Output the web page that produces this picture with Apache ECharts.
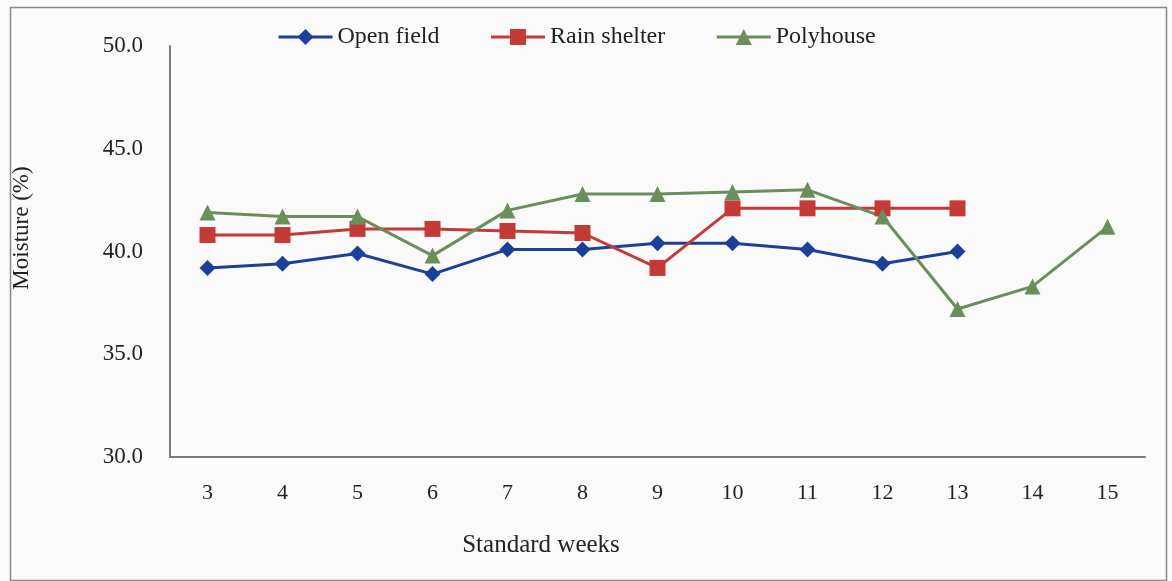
<!DOCTYPE html>
<html>
<head>
<meta charset="utf-8">
<script src="https://cdn.jsdelivr.net/npm/echarts@6/dist/echarts.min.js"></script>
<style>
html,body{margin:0;padding:0;background:#fafafa;}
#c{width:1172px;height:581px;}
</style>
</head>
<body>
<div id="c"></div>
<script>
const weeks = ['3','4','5','6','7','8','9','10','11','12','13','14','15'];
const openField = [39.2, 39.4, 39.9, 38.9, 40.1, 40.1, 40.4, 40.4, 40.1, 39.4, 40.0, null, null];
const rainShelter = [40.8, 40.8, 41.1, 41.1, 41.0, 40.9, 39.2, 42.1, 42.1, 42.1, 42.1, null, null];
const polyhouse = [41.9, 41.7, 41.7, 39.8, 42.0, 42.8, 42.8, 42.9, 43.0, 41.7, 37.2, 38.3, 41.2];
const yTicks = [30, 35, 40, 45, 50];
const xTitle = 'Standard weeks';
const yTitle = 'Moisture (%)';

const font = '"Liberation Serif", "Times New Roman", serif';
const chart = echarts.init(document.getElementById('c'));
function ser(name, data, color, symbol, size) {
  return {
    name, type: 'line', data, symbol, symbolSize: size,
    connectNulls: false,
    lineStyle: {color, width: 3},
    itemStyle: {color},
    emphasis: {disabled: true}
  };
}
chart.setOption({
  animation: false,
  backgroundColor: '#fafafa',
  textStyle: {fontFamily: font},
  graphic: [{
    type: 'rect', left: 8, top: 5, shape: {width: 1156, height: 573},
    style: {fill: 'none', stroke: '#888', lineWidth: 1.5}, silent: true
  }, {
    type: 'text', x: 541, y: 545,
    style: {text: xTitle, font: '25px ' + font, fill: '#222', align: 'center', verticalAlign: 'middle'},
    silent: true
  }, {
    type: 'text', x: 22, y: 228, rotation: Math.PI / 2,
    style: {text: yTitle, font: '23px ' + font, fill: '#222', align: 'center', verticalAlign: 'middle'},
    silent: true
  }],
  legend: {
    top: 20, left: 272,
    itemWidth: 54, itemHeight: 20, itemGap: 50,
    lineStyle: {width: 3},
    textStyle: {fontFamily: font, fontSize: 24, color: '#222'},
    data: ['Open field', 'Rain shelter', 'Polyhouse']
  },
  grid: {left: 170, right: 27, top: 46, bottom: 124},
  xAxis: {
    type: 'category', data: weeks, boundaryGap: true,
    axisLine: {lineStyle: {color: '#7a7a7a', width: 2}},
    axisTick: {show: false},
    axisLabel: {fontFamily: font, fontSize: 22, color: '#222', margin: 25}
  },
  yAxis: {
    type: 'value', min: yTicks[0], max: yTicks[yTicks.length - 1], interval: 5,
    axisLine: {show: true, lineStyle: {color: '#7a7a7a', width: 2}},
    axisTick: {show: false},
    splitLine: {show: false},
    axisLabel: {fontFamily: font, fontSize: 23, color: '#222', margin: 27,
      formatter: v => v.toFixed(1)}
  },
  series: [
    ser('Open field', openField, '#1c3f97', 'diamond', 16),
    ser('Rain shelter', rainShelter, '#c43a36', 'rect', 16),
    ser('Polyhouse', polyhouse, '#6b8f5c', 'triangle', 16)
  ]
});
</script>
</body>
</html>
